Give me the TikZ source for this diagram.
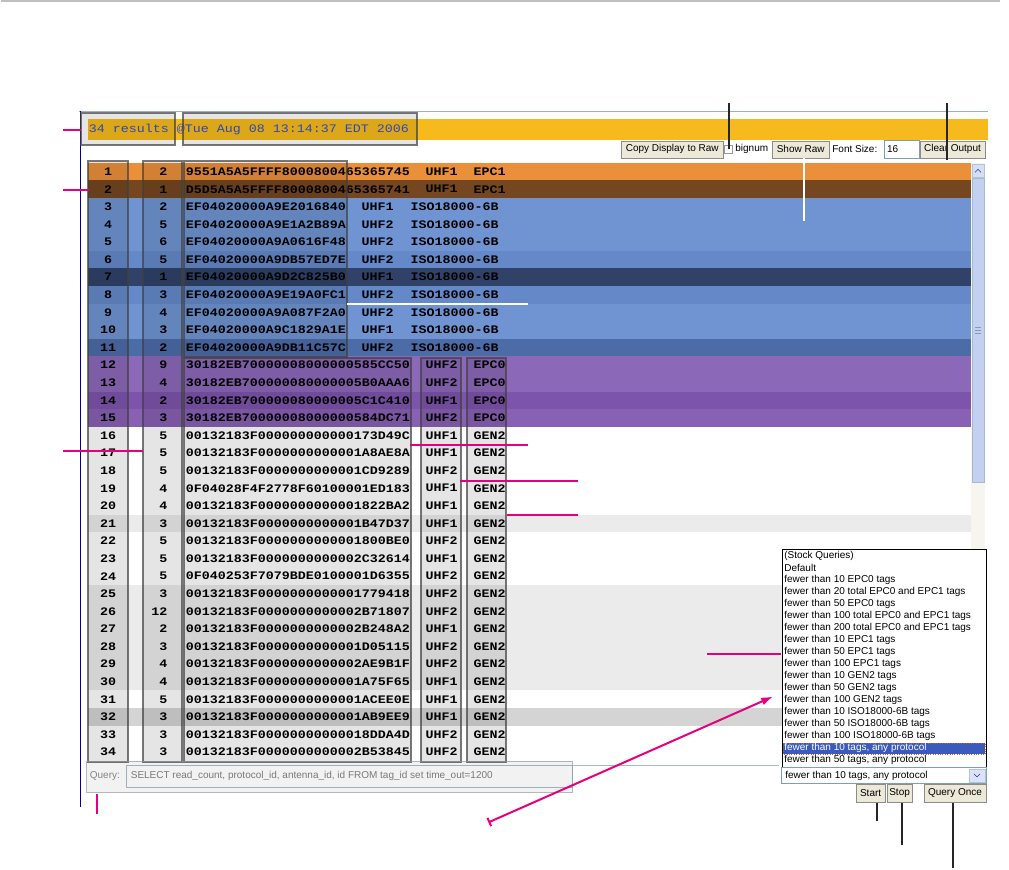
\documentclass[tikz,border=0pt]{standalone}
\usepackage{fontspec}
\usepackage{xcolor}
\usetikzlibrary{arrows.meta}
\newfontfamily\tabfont[FakeStretch=1.16]{Liberation Mono}
\newfontfamily\uifont{Liberation Sans}
\definecolor{hdror}{RGB}{247,186,30}
\definecolor{rowor}{RGB}{234,143,58}
\definecolor{rowbr}{RGB}{116,71,32}
\definecolor{rowbl}{RGB}{112,148,210}
\definecolor{rowbm}{RGB}{100,136,200}
\definecolor{rownv}{RGB}{48,66,104}
\definecolor{rowbd}{RGB}{76,108,168}
\definecolor{rowpu}{RGB}{140,104,184}
\definecolor{rowpd}{RGB}{124,84,172}
\definecolor{rowpm}{RGB}{136,96,180}
\definecolor{rowlg}{RGB}{235,235,235}
\definecolor{rowmg}{RGB}{212,212,212}
\definecolor{hdrtxt}{RGB}{48,80,200}
\definecolor{btnfill}{RGB}{236,233,216}
\definecolor{fieldln}{RGB}{127,157,185}
\definecolor{selblue}{RGB}{58,90,190}
\definecolor{thumb}{RGB}{196,208,240}
\definecolor{track}{RGB}{246,246,238}
\definecolor{pink}{RGB}{230,0,126}
\def\gp{00132183F000000000000}

\begin{document}
\begin{tikzpicture}[x=1pt,y=-1pt,
  hl/.style={draw=black!75,draw opacity=0.7,line width=2pt,fill=black,fill opacity=0.1},
  cell/.style={font=\tabfont\bfseries\fontsize{11.5}{12}\selectfont,inner sep=0pt},
  ui/.style={font=\uifont\fontsize{10}{11}\selectfont,inner sep=0pt},
  btn/.style={ui,draw=black!45,fill=btnfill,minimum height=17pt},
  lead/.style={pink,line width=2pt},
  pin/.style={black!85,line width=2pt},
  wline/.style={white,line width=2pt}]
% page
\fill[white] (0,0) rectangle (1009,870);
\draw[black!25,line width=1.5pt] (0,1) -- (1000,1);
% window frame
\draw[fieldln!80] (78,111) -- (988,111);
\draw[blue!60!black] (80,111) -- (80,808);
% header bar
\fill[hdror] (87,119) rectangle (988,140);
\node[cell,font=\tabfont\fontsize{11.5}{12}\selectfont,text=hdrtxt,anchor=west] (stamp) at (88,129.5)
  {34 results @Tue Aug 08 13:14:37 EDT 2006};

% tool row
\node[btn,minimum width=102pt] (copy) at (672,149.5) {Copy Display to Raw};
\node[draw=black!40,fill=white,minimum size=8pt,inner sep=0pt] (chk) at (728,149) {};
\node[ui,anchor=west] (bign) at (735,149.5) {bignum};
\node[btn,minimum width=57pt] (raw) at (800.5,149.5) {Show Raw};
\node[ui,anchor=west] (fsz) at (832,149.5) {Font Size:};
\node[ui,draw=fieldln,fill=white,minimum width=35pt,minimum height=18pt,text width=29pt] (size) at (901.5,149) {16};
\node[btn,minimum width=65pt] (clear) at (952.5,149.5) {Clear Output};

% row backgrounds
\foreach \r/\col in {1/rowor,2/rowbr,3/rowbl,4/rowbl,5/rowbl,6/rowbm,7/rownv,8/rowbm,9/rowbl,10/rowbl,
  11/rowbd,12/rowpu,13/rowpu,14/rowpd,15/rowpm,21/rowlg,25/rowlg,26/rowlg,27/rowlg,28/rowlg,
  29/rowlg,30/rowlg,32/rowmg}
  \fill[\col] (87,{163+(\r-1)*17.6}) rectangle (971,{163+\r*17.6});

% rows with 28 digit ids
\foreach \r/\cnt/\epc/\ant/\pro in {
  1/2/9551A5A5FFFF8000800465365745/UHF1/EPC1, 2/1/D5D5A5A5FFFF8000800465365741/UHF1/EPC1,
  12/9/30182EB70000008000000585CC50/UHF2/EPC0, 13/4/30182EB700000080000005B0AAA6/UHF2/EPC0,
  14/2/30182EB700000080000005C1C410/UHF1/EPC0, 15/3/30182EB70000008000000584DC71/UHF2/EPC0,
  16/5/\gp173D49C/UHF1/GEN2, 17/5/\gp1A8AE8A/UHF1/GEN2, 18/5/\gp1CD9289/UHF2/GEN2,
  19/4/0F04028F4F2778F60100001ED183/UHF1/GEN2, 20/4/\gp1822BA2/UHF1/GEN2,
  21/3/\gp1B47D37/UHF1/GEN2, 22/5/\gp1800BE0/UHF2/GEN2, 23/5/\gp2C32614/UHF1/GEN2,
  24/5/0F040253F7079BDE0100001D6355/UHF2/GEN2, 25/3/\gp1779418/UHF2/GEN2,
  26/12/\gp2B71807/UHF2/GEN2, 27/2/\gp2B248A2/UHF1/GEN2, 28/3/\gp1D05115/UHF2/GEN2,
  29/4/\gp2AE9B1F/UHF2/GEN2, 30/4/\gp1A75F65/UHF1/GEN2, 31/5/\gp1ACEE0E/UHF1/GEN2,
  32/3/\gp1AB9EE9/UHF1/GEN2, 33/3/\gp18DDA4D/UHF2/GEN2, 34/3/\gp2B53845/UHF2/GEN2} {
  \node[cell] (n\r) at (107.5,{163+(\r-0.5)*17.6}) {\r};
  \node[cell,anchor=east] (c\r) at (167,{163+(\r-0.5)*17.6}) {\cnt};
  \node[cell,anchor=west] (e\r) at (185,{163+(\r-0.5)*17.6}) {\epc};
  \node[cell,anchor=west] (a\r) at (425,{163+(\r-0.5)*17.6}) {\ant};
  \node[cell,anchor=west] (p\r) at (473,{163+(\r-0.5)*17.6}) {\pro};
}
% rows with 20 digit ids
\foreach \r/\cnt/\epc/\ant in {3/2/EF04020000A9E2016840/UHF1, 4/5/EF04020000A9E1A2B89A/UHF2,
  5/6/EF04020000A9A0616F48/UHF2, 6/5/EF04020000A9DB57ED7E/UHF2, 7/1/EF04020000A9D2C825B0/UHF1,
  8/3/EF04020000A9E19A0FC1/UHF2, 9/4/EF04020000A9A087F2A0/UHF2, 10/3/EF04020000A9C1829A1E/UHF1,
  11/2/EF04020000A9DB11C57C/UHF2} {
  \node[cell] (n\r) at (107.5,{163+(\r-0.5)*17.6}) {\r};
  \node[cell,anchor=east] (c\r) at (167,{163+(\r-0.5)*17.6}) {\cnt};
  \node[cell,anchor=west] (e\r) at (185,{163+(\r-0.5)*17.6}) {\epc};
  \node[cell,anchor=west] (a\r) at (361,{163+(\r-0.5)*17.6}) {\ant};
  \node[cell,anchor=west] (p\r) at (410,{163+(\r-0.5)*17.6}) {ISO18000-6B};
}

% scroll bar
\fill[track] (971,163) rectangle (985,765);
\draw[fieldln!60,fill=thumb!70] (972,164) rectangle (984,177);
\draw[blue!50!black] (975,172.5) -- (978,169.5) -- (981,172.5);
\draw[fieldln!70,fill=thumb] (972,178) rectangle (984,483);
\foreach \g in {327,330,333}
  \draw[fieldln] (975,\g) -- (981,\g);

% query line
\node[ui,text=black!45,anchor=west] (qlab) at (89,777) {Query:};
\draw[fieldln!70,fill=white] (126,766) rectangle (572,788);
\draw[fieldln!70] (572,766) -- (779,766);
\node[ui,text=black!50,anchor=west] (qtxt) at (130,776)
  {SELECT read\_count, protocol\_id, antenna\_id, id FROM tag\_id set time\_out=1200};

% stock query list
\draw[black,fill=white] (782,550) rectangle (986,768);
\fill[selblue] (783,744) rectangle (985,755);
\draw[orange!80!black,dotted] (783,744) rectangle (985,755);
\foreach \t [count=\i from 0] in {{(Stock Queries)},{Default},{fewer than 10 EPC0 tags},
  {fewer than 20 total EPC0 and EPC1 tags},{fewer than 50 EPC0 tags},
  {fewer than 100 total EPC0 and EPC1 tags},{fewer than 200 total EPC0 and EPC1 tags},
  {fewer than 10 EPC1 tags},{fewer than 50 EPC1 tags},{fewer than 100 EPC1 tags},
  {fewer than 10 GEN2 tags},{fewer than 50 GEN2 tags},{fewer than 100 GEN2 tags},
  {fewer than 10 ISO18000-6B tags},{fewer than 50 ISO18000-6B tags},
  {fewer than 100 ISO18000-6B tags},{fewer than 10 tags, any protocol},
  {fewer than 50 tags, any protocol}}
  \node[ui,anchor=west] (q\i) at (784,{556.7+12*\i}) {\ifnum\i=16\color{white}\fi\t};
\draw[fieldln,fill=white] (781,768) rectangle (986,784);
\node[ui,anchor=west] (sel) at (785,776) {fewer than 10 tags, any protocol};
\draw[fieldln!60,fill=thumb!60] (969,769.5) rectangle (985,782.5);
\draw[blue!50!black] (974,774.5) -- (977,777.5) -- (980,774.5);

% run buttons
\node[btn,minimum width=29pt,minimum height=18pt] (start) at (870.5,794) {Start};
\node[btn,minimum width=25pt,minimum height=18pt] (stop) at (899.5,794) {Stop};
\node[btn,minimum width=62pt,minimum height=18pt] (once) at (955,794) {Query Once};

% highlight boxes
\draw[hl] (80,113) rectangle (174,145);
\draw[hl] (182,113) rectangle (417,145);
\draw[hl] (87,161) rectangle (127,763);
\draw[hl] (142,161) rectangle (181,763);
\draw[hl] (183,161) rectangle (347,357);
\draw[hl] (183,358) rectangle (411,763);
\draw[hl] (421,358) rectangle (461,763);
\draw[hl] (467,358) rectangle (506,763);
\draw[hl,draw=black!40,fill opacity=0.05,line width=1.5pt] (86,762) rectangle (572,793);

% leader ends
\coordinate (lcnt) at (62,130);
\coordinate (lrow) at (62,190);
\coordinate (lnum) at (62,451);
\coordinate (lepc) at (528,445);
\coordinate (lant) at (578,481);
\coordinate (lpro) at (578,515);
\coordinate (llist) at (707,654);
\coordinate (lqry) at (96,815);
\coordinate (qtail) at (488,823);
\coordinate (qhead) at (773,697);
\coordinate (liso) at (528,304);
\coordinate (lraw) at (804,221);
\coordinate (lbig) at (729,103);
\coordinate (lclr) at (947,103);
\coordinate (lstart) at (877,822);
\coordinate (lstop) at (902,846);
\coordinate (lonce) at (953,869);

% magenta leaders
\draw[lead] (lcnt) -- (80,130);
\draw[lead] (lrow) -- (88,190);
\draw[lead] (lnum) -- (142,451);
\draw[lead] (lepc) -- (410,445);
\draw[lead] (lant) -- (460,481);
\draw[lead] (lpro) -- (507,515);
\draw[lead] (llist) -- (781,654);
\draw[lead] (lqry) -- (96,795);
\draw[lead,{Bar[width=9pt]}-{Latex[length=12pt,width=8pt]}] (qtail) -- (qhead);
% white and black leaders
\draw[wline] (liso) -- (347,304);
\draw[wline] (lraw) -- (raw.south -| lraw);
\draw[pin] (lbig) -- (chk.center -| lbig);
\draw[pin] (lclr) -- (lclr |- 0,160);
\draw[pin] (lstart) -- (lstart |- start.south);
\draw[pin] (lstop) -- (lstop |- stop.south);
\draw[pin] (lonce) -- (lonce |- once.south);
\end{tikzpicture}
\end{document}
